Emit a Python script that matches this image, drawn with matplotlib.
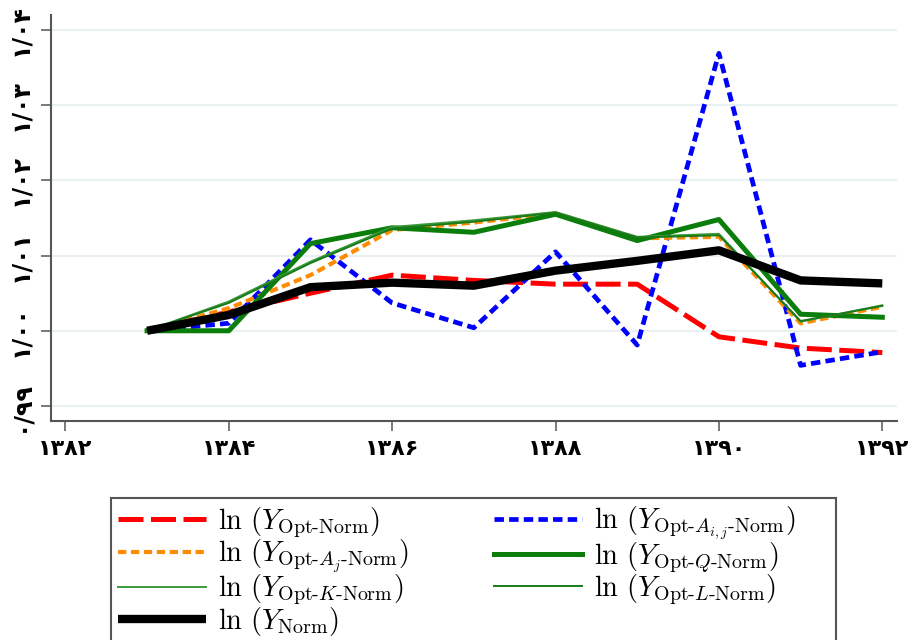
import matplotlib
matplotlib.use("Agg")
import matplotlib.pyplot as plt
from matplotlib.patches import Rectangle

plt.rcParams['mathtext.fontset'] = 'cm'

years = [1383, 1384, 1385, 1386, 1387, 1388, 1389, 1390, 1391, 1392]
y_opt_norm = [1.000, 1.0025, 1.0050, 1.0074, 1.0067, 1.0062, 1.0062, 0.9992, 0.9977, 0.9971]
y_opt_aij = [1.000, 1.0010, 1.0121, 1.0037, 1.0004, 1.0105, 0.9981, 1.0369, 0.9954, 0.9972]
y_opt_aj = [1.000, 1.0030, 1.0074, 1.0134, 1.0144, 1.0156, 1.0123, 1.0125, 1.0010, 1.0032]
y_opt_q = [1.000, 1.0000, 1.0116, 1.0137, 1.0131, 1.0155, 1.0120, 1.0148, 1.0022, 1.0018]
y_opt_k = [1.000, 1.0039, 1.0092, 1.0138, 1.0147, 1.0158, 1.0125, 1.0129, 1.0012, 1.0034]
y_opt_l = [1.000, 1.0037, 1.0090, 1.0136, 1.0145, 1.0157, 1.0124, 1.0127, 1.0013, 1.0033]
y_norm = [1.000, 1.0021, 1.0058, 1.0064, 1.0060, 1.0080, 1.0093, 1.0107, 1.0067, 1.0063]

xticks = [1382, 1384, 1386, 1388, 1390, 1392]
xtick_labels = ["۱۳۸۲", "۱۳۸۴", "۱۳۸۶", "۱۳۸۸", "۱۳۹۰", "۱۳۹۲"]
yticks = [0.99, 1.00, 1.01, 1.02, 1.03, 1.04]
ytick_labels = ["۰/۹۹", "۱/۰۰", "۱/۰۱", "۱/۰۲", "۱/۰۳", "۱/۰۴"]

labels = [
    r'$\ln\,(Y_{\text{Opt-Norm}})$',
    r'$\ln\,(Y_{\text{Opt-}A_{i,j}\text{-Norm}})$',
    r'$\ln\,(Y_{\text{Opt-}A_j\text{-Norm}})$',
    r'$\ln\,(Y_{\text{Opt-}Q\text{-Norm}})$',
    r'$\ln\,(Y_{\text{Opt-}K\text{-Norm}})$',
    r'$\ln\,(Y_{\text{Opt-}L\text{-Norm}})$',
    r'$\ln\,(Y_{\text{Norm}})$',
]

fig = plt.figure(figsize=(9.11, 6.4), dpi=100)
ax = fig.add_axes([50.7 / 911, 1 - 421 / 640, (897 - 50.7) / 911, (421 - 15) / 640])

h_red, = ax.plot(years, y_opt_norm, color='#ff0000', lw=3.6, dashes=(5, 1.5), zorder=3)
h_blue, = ax.plot(years, y_opt_aij, color='#0000ff', lw=3.4, dashes=(2.0, 1.1), zorder=3)
h_orange, = ax.plot(years, y_opt_aj, color='#ff8c00', lw=3.0, dashes=(2.0, 1.1), zorder=3)
h_q, = ax.plot(years, y_opt_q, color='#0a7d0a', lw=3.6, zorder=3)
h_k, = ax.plot(years, y_opt_k, color='#3a9a3a', lw=1.4, zorder=3)
h_l, = ax.plot(years, y_opt_l, color='#1a7a1a', lw=1.4, zorder=3)
h_norm, = ax.plot(years, y_norm, color='#000000', lw=6.0, solid_capstyle='butt', zorder=4)

ax.set_xlim(1381.82, 1392.18)
ax.set_ylim(0.988, 1.042)
ax.set_xticks(xticks)
ax.set_xticklabels(xtick_labels, fontsize=16, fontweight='bold', family='DejaVu Sans')
ax.set_yticks(yticks)
ax.set_yticklabels(ytick_labels, fontsize=17, fontweight='bold', family='DejaVu Sans',
                   rotation=90, va='center')

ax.grid(axis='y', color='#e8f0f2', lw=1.5)
ax.set_axisbelow(True)
for s in ['top', 'right']:
    ax.spines[s].set_visible(False)
for s in ['left', 'bottom']:
    ax.spines[s].set_color('#555555')
    ax.spines[s].set_linewidth(1.5)
ax.tick_params(axis='both', length=7, width=1.1, color='#555555', pad=6)

handles = [h_red, h_blue, h_orange, h_q, h_k, h_l, h_norm]
order = [0, 2, 4, 6, 1, 3, 5]
leg = fig.legend([handles[i] for i in order], [labels[i] for i in order],
                 ncol=2, loc='upper left',
                 bbox_to_anchor=(110.7 / 911, 1 - 498 / 640),
                 fontsize=20.5, handlelength=3.09, handletextpad=0.42,
                 labelspacing=-0.08, borderpad=0.25, columnspacing=3.0,
                 frameon=False, borderaxespad=0)

frame = Rectangle((110.7 / 911, -0.05), (836 - 110.7) / 911, (1 - 498 / 640) + 0.05,
                  transform=fig.transFigure, fill=False, edgecolor='#555555', lw=1.5)
fig.add_artist(frame)

fig.savefig('out.png', dpi=100)
